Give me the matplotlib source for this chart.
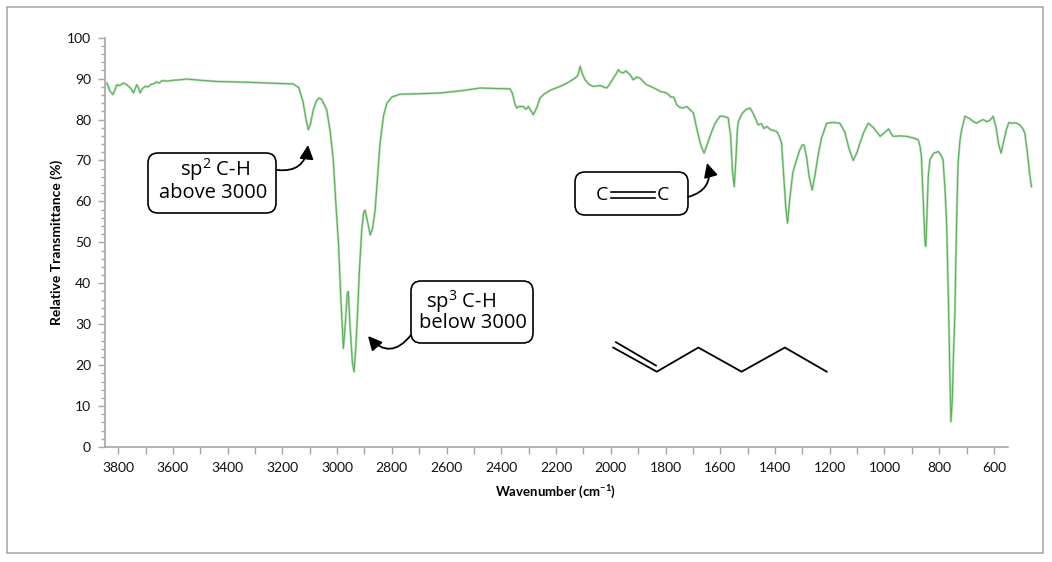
import matplotlib
matplotlib.use("Agg")
import matplotlib.pyplot as plt
from matplotlib.patches import FancyBboxPatch, FancyArrowPatch, Rectangle
from matplotlib.transforms import Affine2D
from matplotlib.ticker import FixedLocator

W, H, DPI = 1052, 562, 100

# IR spectrum of 1-hexene
wavenumber = [
    3841, 3830, 3819, 3810, 3805, 3795, 3781, 3770, 3762, 3752, 3744, 3738, 3732, 3726,
    3720, 3712, 3701, 3690, 3680, 3671, 3660, 3650, 3640, 3620, 3598, 3575, 3549, 3500,
    3439, 3380, 3318, 3245, 3160, 3140, 3125, 3112, 3105, 3097, 3087, 3075, 3065, 3055,
    3038, 3025, 3014, 3005, 2995, 2986, 2977, 2970, 2963, 2959, 2953, 2944, 2938, 2932,
    2925, 2919, 2910, 2903, 2898, 2890, 2879, 2870, 2861, 2852, 2843, 2830, 2818, 2800,
    2770, 2700, 2624, 2550, 2478, 2420, 2368, 2360, 2350, 2344, 2335, 2320, 2310, 2301,
    2290, 2283, 2270, 2258, 2246, 2220, 2185, 2160, 2131, 2120, 2112, 2104, 2094, 2080,
    2064, 2040, 2015, 2005, 1991, 1980, 1972, 1965, 1954, 1945, 1930, 1918, 1905, 1893,
    1880, 1869, 1845, 1820, 1796, 1780, 1770, 1759, 1748, 1735, 1723, 1710, 1698, 1685,
    1670, 1659, 1650, 1631, 1619, 1601, 1589, 1571, 1562, 1555, 1549, 1543, 1538, 1534,
    1520, 1505, 1491, 1480, 1461, 1450, 1440, 1430, 1415, 1394, 1385, 1376, 1368, 1360,
    1354, 1347, 1335, 1321, 1310, 1300, 1294, 1285, 1275, 1264, 1255, 1242, 1230, 1211,
    1190, 1163, 1145, 1130, 1114, 1100, 1090, 1075, 1059, 1040, 1016, 1000, 985, 975,
    968, 945, 919, 895, 877, 870, 865, 858, 852, 849, 845, 840, 834, 820,
    810, 804, 795, 786, 778, 773, 766, 760, 757, 752, 748, 743, 738, 734,
    731, 724, 718, 706, 690, 675, 664, 652, 640, 625, 615, 603, 592, 583,
    574, 565, 555, 545, 535, 520, 505, 495, 487, 478, 470, 463,
]
transmittance = [
    88.9, 87.0, 86.1, 87.5, 88.5, 88.3, 88.9, 88.6, 88.1, 87.5, 86.5, 87.5, 88.5, 87.8,
    86.5, 87.5, 88.1, 88.0, 88.6, 88.7, 89.2, 88.9, 89.5, 89.4, 89.6, 89.7, 89.9, 89.6,
    89.3, 89.2, 89.1, 88.9, 88.7, 87.8, 84.5, 79.5, 77.5, 79.0, 82.4, 84.6, 85.3, 84.8,
    82.4, 77.0, 70.2, 60.0, 49.8, 36.0, 24.1, 30.0, 37.5, 38.0, 30.0, 20.5, 18.4, 24.0,
    33.0, 42.5, 53.0, 57.3, 57.9, 55.5, 51.8, 53.5, 57.9, 66.0, 74.3, 81.0, 84.0, 85.5,
    86.2, 86.3, 86.5, 87.0, 87.7, 87.6, 87.5, 86.5, 83.8, 82.8, 83.2, 83.2, 82.5, 83.2,
    82.0, 81.2, 83.0, 85.3, 86.1, 87.2, 88.1, 88.9, 90.1, 90.8, 93.0, 91.2, 89.7, 88.6,
    88.1, 88.3, 87.7, 88.5, 90.1, 91.2, 92.2, 91.6, 91.4, 91.9, 91.0, 89.7, 90.4, 90.1,
    89.2, 88.5, 87.8, 86.9, 86.5, 85.5, 85.5, 83.6, 83.0, 82.8, 83.2, 82.4, 81.6, 77.5,
    73.5, 71.8, 73.5, 77.1, 79.1, 80.8, 80.8, 80.4, 76.0, 67.0, 63.6, 70.0, 77.0, 79.5,
    81.5, 82.5, 82.8, 81.5, 78.7, 79.0, 77.8, 78.3, 77.5, 77.1, 76.0, 74.2, 66.0, 58.0,
    54.7, 60.0, 67.0, 70.2, 72.5, 73.8, 73.8, 71.0, 66.0, 62.8, 66.0, 71.4, 75.5, 79.1,
    79.3, 79.1, 77.0, 73.0, 70.0, 72.0, 74.2, 77.0, 79.1, 78.0, 75.9, 76.8, 77.7, 76.5,
    75.9, 76.0, 75.9, 75.5, 75.1, 73.5, 71.0, 60.0, 50.0, 49.0, 56.0, 66.0, 70.2, 71.8,
    72.0, 72.2, 71.5, 70.2, 62.0, 54.7, 35.0, 14.0, 6.2, 12.0, 22.0, 31.9, 50.0, 62.0,
    69.4, 75.0, 77.5, 80.8, 80.3, 79.5, 79.1, 79.6, 80.0, 79.5, 79.8, 80.8, 78.0, 74.0,
    71.8, 74.5, 77.5, 79.3, 79.1, 79.2, 78.7, 77.8, 76.7, 72.0, 67.0, 63.6,
]

x_ticks = list(range(3800, 599, -100))
x_labels = [str(t) if t % 200 == 0 else "" for t in x_ticks]
y_ticks = list(range(0, 101, 10))
y_minor = [t for t in range(0, 101, 2) if t % 10]

# hex-1-ene skeleton, in data units
hexene_w = [1991, 1832, 1680, 1522, 1364, 1211]
hexene_t = [24.3, 18.4, 24.3, 18.4, 24.3, 18.4]
alkene_w = [1981, 1835]
alkene_t = [25.6, 19.9]

plt.rcParams["mathtext.fontset"] = "custom"
plt.rcParams["mathtext.rm"] = "Open Sans"
plt.rcParams["mathtext.bf"] = "Lato:bold"

fig = plt.figure(figsize=(W / DPI, H / DPI), dpi=DPI)
# pixel coords, origin top-left
px = Affine2D().scale(1 / DPI, -1 / DPI).translate(0, H / DPI) + fig.dpi_scale_trans

ax = fig.add_axes([105 / W, 1 - 447 / H, (1035 - 105) / W, (447 - 37.7) / H])
ax.plot(wavenumber, transmittance, color="#b2ddb2", lw=1.7, solid_joinstyle="round")
ax.plot(wavenumber, transmittance, color="#55ad55", lw=0.7, solid_joinstyle="round")
ax.plot(hexene_w, hexene_t, color="black", lw=1.3)
ax.plot(alkene_w, alkene_t, color="black", lw=1.3)

ax.set_xlim(3848, 450)
ax.set_ylim(0, 100)
for s in ["top", "right"]:
    ax.spines[s].set_visible(False)
gray = "#a6a6a6"
ax.spines["left"].set_color(gray)
ax.spines["bottom"].set_color(gray)
ax.spines["left"].set_linewidth(1.2)
ax.spines["bottom"].set_linewidth(1.2)
ax.spines["bottom"].set_bounds(3848, 549)

ax.xaxis.set_major_locator(FixedLocator(x_ticks))
ax.set_xticklabels(x_labels)
ax.yaxis.set_major_locator(FixedLocator(y_ticks))
ax.yaxis.set_minor_locator(FixedLocator(y_minor))
ax.tick_params(axis="both", which="major", length=5, width=1, color=gray,
               labelsize=10, labelcolor="#111111")
ax.tick_params(axis="y", which="minor", length=3, width=1, color=gray)
ax.tick_params(axis="x", pad=6)
ax.tick_params(axis="y", pad=5)
for lab in ax.get_xticklabels() + ax.get_yticklabels():
    lab.set_family("Lato")

fig.text(57 / W, 1 - 242 / H, "Relative Transmittance (%)", rotation=90,
         ha="center", va="center", family="Lato", weight="bold", fontsize=10)
fig.text(555 / W, 1 - 492 / H, r"Wavenumber (cm$^{\mathbf{-1}}$)",
         ha="center", va="center", family="Lato", weight="bold", fontsize=9.5)

# outer chart frame
fig.patches.append(Rectangle((7, 7), 1036, 546, fill=False, ec="#aaaaaa", lw=1.2,
                             transform=px, figure=fig))

# annotation boxes
boxes = [(148, 153, 128, 60), (411, 281, 122, 62), (575, 172, 113, 43)]
for bx, by, bw, bh in boxes:
    fig.patches.append(FancyBboxPatch((bx, by), bw, bh,
                                      boxstyle="round,pad=0,rounding_size=10",
                                      fc="white", ec="black", lw=1.2,
                                      transform=px, figure=fig, zorder=5))

tk = dict(ha="center", va="center", family="Open Sans", fontsize=14.5,
          color="black", transform=px, zorder=6)
fig.text(215, 170, r"sp$^{2}$ C-H", **tk)
fig.text(213.5, 193, "above 3000", **tk)
fig.text(461, 302, r"sp$^{3}$ C-H", **tk)
fig.text(473, 323, "below 3000", **tk)
fig.text(602, 195, "C", **dict(tk, fontsize=14))
fig.text(662.5, 195, "C", **dict(tk, fontsize=14))
fig.lines.append(plt.Line2D([611, 655], [191.5, 191.5], color="black", lw=1.2,
                            transform=px, figure=fig, zorder=6))
fig.lines.append(plt.Line2D([611, 655], [198, 198], color="black", lw=1.2,
                            transform=px, figure=fig, zorder=6))

arrows = [((277, 170), (308, 145), 0.5),
          ((411, 335), (368, 336), -0.6),
          ((688, 197), (707, 163), 0.5)]
for a, b, rad in arrows:
    fig.patches.append(FancyArrowPatch(a, b, connectionstyle=f"arc3,rad={rad}",
                                       arrowstyle="-|>,head_length=0.6,head_width=0.3",
                                       mutation_scale=14, lw=1.3, color="black",
                                       shrinkA=0, shrinkB=0, transform=px,
                                       figure=fig, zorder=6))

fig.savefig("out.png", dpi=DPI)
